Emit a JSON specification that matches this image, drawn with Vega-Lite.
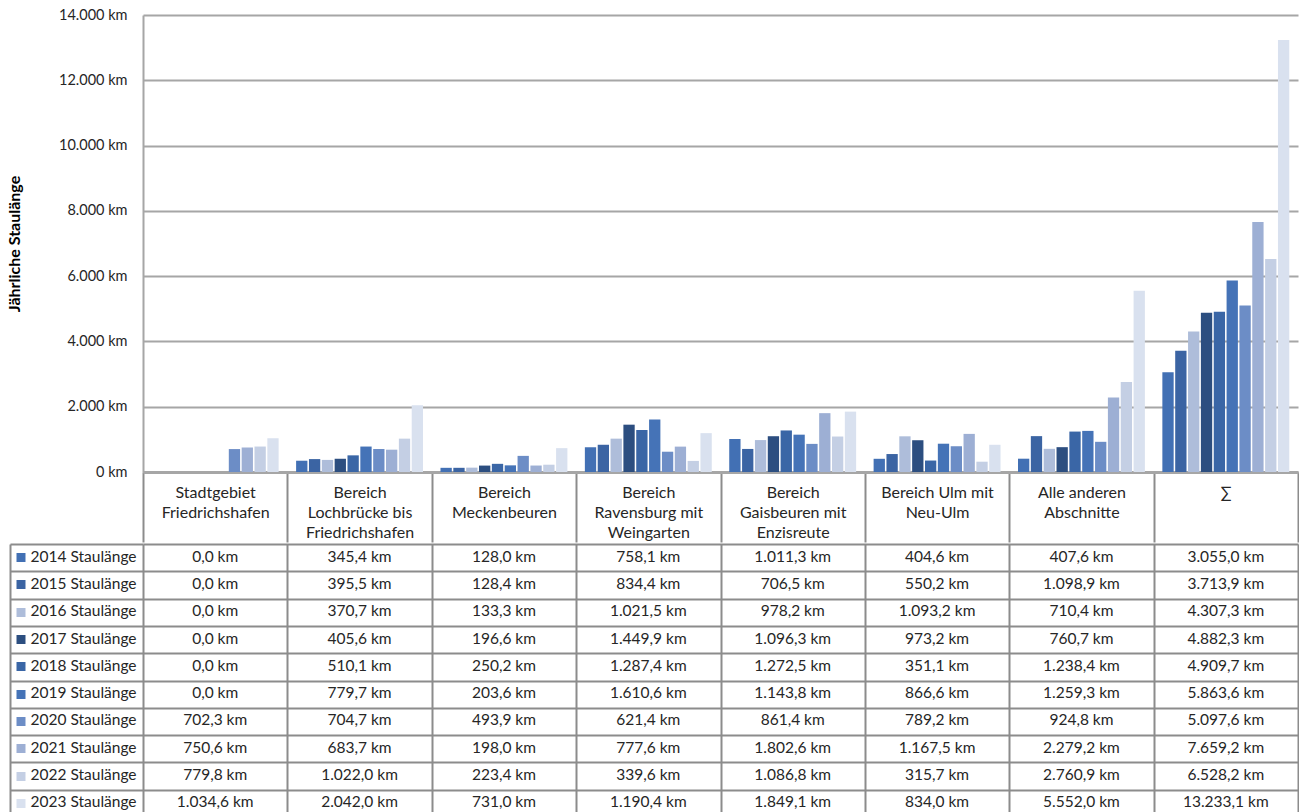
{
  "$schema": "https://vega.github.io/schema/vega-lite/v6.json",
  "padding": {"left": 6, "top": 7, "right": 0, "bottom": 0},
  "background": "white",
  "config": {
    "locale": {"number": {"decimal": ",", "thousands": ".", "grouping": [3], "currency": ["", " km"]}},
    "view": {"stroke": null},
    "font": "Lato"
  },
  "datasets": {
    "stau": [
      {"abschnitt": "Stadtgebiet Friedrichshafen", "jahr": "2014 Staulänge", "km": 0.0},
      {"abschnitt": "Bereich Lochbrücke bis Friedrichshafen", "jahr": "2014 Staulänge", "km": 345.4},
      {"abschnitt": "Bereich Meckenbeuren", "jahr": "2014 Staulänge", "km": 128.0},
      {"abschnitt": "Bereich Ravensburg mit Weingarten", "jahr": "2014 Staulänge", "km": 758.1},
      {"abschnitt": "Bereich Gaisbeuren mit Enzisreute", "jahr": "2014 Staulänge", "km": 1011.3},
      {"abschnitt": "Bereich Ulm mit Neu-Ulm", "jahr": "2014 Staulänge", "km": 404.6},
      {"abschnitt": "Alle anderen Abschnitte", "jahr": "2014 Staulänge", "km": 407.6},
      {"abschnitt": "∑", "jahr": "2014 Staulänge", "km": 3055.0},
      {"abschnitt": "Stadtgebiet Friedrichshafen", "jahr": "2015 Staulänge", "km": 0.0},
      {"abschnitt": "Bereich Lochbrücke bis Friedrichshafen", "jahr": "2015 Staulänge", "km": 395.5},
      {"abschnitt": "Bereich Meckenbeuren", "jahr": "2015 Staulänge", "km": 128.4},
      {"abschnitt": "Bereich Ravensburg mit Weingarten", "jahr": "2015 Staulänge", "km": 834.4},
      {"abschnitt": "Bereich Gaisbeuren mit Enzisreute", "jahr": "2015 Staulänge", "km": 706.5},
      {"abschnitt": "Bereich Ulm mit Neu-Ulm", "jahr": "2015 Staulänge", "km": 550.2},
      {"abschnitt": "Alle anderen Abschnitte", "jahr": "2015 Staulänge", "km": 1098.9},
      {"abschnitt": "∑", "jahr": "2015 Staulänge", "km": 3713.9},
      {"abschnitt": "Stadtgebiet Friedrichshafen", "jahr": "2016 Staulänge", "km": 0.0},
      {"abschnitt": "Bereich Lochbrücke bis Friedrichshafen", "jahr": "2016 Staulänge", "km": 370.7},
      {"abschnitt": "Bereich Meckenbeuren", "jahr": "2016 Staulänge", "km": 133.3},
      {"abschnitt": "Bereich Ravensburg mit Weingarten", "jahr": "2016 Staulänge", "km": 1021.5},
      {"abschnitt": "Bereich Gaisbeuren mit Enzisreute", "jahr": "2016 Staulänge", "km": 978.2},
      {"abschnitt": "Bereich Ulm mit Neu-Ulm", "jahr": "2016 Staulänge", "km": 1093.2},
      {"abschnitt": "Alle anderen Abschnitte", "jahr": "2016 Staulänge", "km": 710.4},
      {"abschnitt": "∑", "jahr": "2016 Staulänge", "km": 4307.3},
      {"abschnitt": "Stadtgebiet Friedrichshafen", "jahr": "2017 Staulänge", "km": 0.0},
      {"abschnitt": "Bereich Lochbrücke bis Friedrichshafen", "jahr": "2017 Staulänge", "km": 405.6},
      {"abschnitt": "Bereich Meckenbeuren", "jahr": "2017 Staulänge", "km": 196.6},
      {"abschnitt": "Bereich Ravensburg mit Weingarten", "jahr": "2017 Staulänge", "km": 1449.9},
      {"abschnitt": "Bereich Gaisbeuren mit Enzisreute", "jahr": "2017 Staulänge", "km": 1096.3},
      {"abschnitt": "Bereich Ulm mit Neu-Ulm", "jahr": "2017 Staulänge", "km": 973.2},
      {"abschnitt": "Alle anderen Abschnitte", "jahr": "2017 Staulänge", "km": 760.7},
      {"abschnitt": "∑", "jahr": "2017 Staulänge", "km": 4882.3},
      {"abschnitt": "Stadtgebiet Friedrichshafen", "jahr": "2018 Staulänge", "km": 0.0},
      {"abschnitt": "Bereich Lochbrücke bis Friedrichshafen", "jahr": "2018 Staulänge", "km": 510.1},
      {"abschnitt": "Bereich Meckenbeuren", "jahr": "2018 Staulänge", "km": 250.2},
      {"abschnitt": "Bereich Ravensburg mit Weingarten", "jahr": "2018 Staulänge", "km": 1287.4},
      {"abschnitt": "Bereich Gaisbeuren mit Enzisreute", "jahr": "2018 Staulänge", "km": 1272.5},
      {"abschnitt": "Bereich Ulm mit Neu-Ulm", "jahr": "2018 Staulänge", "km": 351.1},
      {"abschnitt": "Alle anderen Abschnitte", "jahr": "2018 Staulänge", "km": 1238.4},
      {"abschnitt": "∑", "jahr": "2018 Staulänge", "km": 4909.7},
      {"abschnitt": "Stadtgebiet Friedrichshafen", "jahr": "2019 Staulänge", "km": 0.0},
      {"abschnitt": "Bereich Lochbrücke bis Friedrichshafen", "jahr": "2019 Staulänge", "km": 779.7},
      {"abschnitt": "Bereich Meckenbeuren", "jahr": "2019 Staulänge", "km": 203.6},
      {"abschnitt": "Bereich Ravensburg mit Weingarten", "jahr": "2019 Staulänge", "km": 1610.6},
      {"abschnitt": "Bereich Gaisbeuren mit Enzisreute", "jahr": "2019 Staulänge", "km": 1143.8},
      {"abschnitt": "Bereich Ulm mit Neu-Ulm", "jahr": "2019 Staulänge", "km": 866.6},
      {"abschnitt": "Alle anderen Abschnitte", "jahr": "2019 Staulänge", "km": 1259.3},
      {"abschnitt": "∑", "jahr": "2019 Staulänge", "km": 5863.6},
      {"abschnitt": "Stadtgebiet Friedrichshafen", "jahr": "2020 Staulänge", "km": 702.3},
      {"abschnitt": "Bereich Lochbrücke bis Friedrichshafen", "jahr": "2020 Staulänge", "km": 704.7},
      {"abschnitt": "Bereich Meckenbeuren", "jahr": "2020 Staulänge", "km": 493.9},
      {"abschnitt": "Bereich Ravensburg mit Weingarten", "jahr": "2020 Staulänge", "km": 621.4},
      {"abschnitt": "Bereich Gaisbeuren mit Enzisreute", "jahr": "2020 Staulänge", "km": 861.4},
      {"abschnitt": "Bereich Ulm mit Neu-Ulm", "jahr": "2020 Staulänge", "km": 789.2},
      {"abschnitt": "Alle anderen Abschnitte", "jahr": "2020 Staulänge", "km": 924.8},
      {"abschnitt": "∑", "jahr": "2020 Staulänge", "km": 5097.6},
      {"abschnitt": "Stadtgebiet Friedrichshafen", "jahr": "2021 Staulänge", "km": 750.6},
      {"abschnitt": "Bereich Lochbrücke bis Friedrichshafen", "jahr": "2021 Staulänge", "km": 683.7},
      {"abschnitt": "Bereich Meckenbeuren", "jahr": "2021 Staulänge", "km": 198.0},
      {"abschnitt": "Bereich Ravensburg mit Weingarten", "jahr": "2021 Staulänge", "km": 777.6},
      {"abschnitt": "Bereich Gaisbeuren mit Enzisreute", "jahr": "2021 Staulänge", "km": 1802.6},
      {"abschnitt": "Bereich Ulm mit Neu-Ulm", "jahr": "2021 Staulänge", "km": 1167.5},
      {"abschnitt": "Alle anderen Abschnitte", "jahr": "2021 Staulänge", "km": 2279.2},
      {"abschnitt": "∑", "jahr": "2021 Staulänge", "km": 7659.2},
      {"abschnitt": "Stadtgebiet Friedrichshafen", "jahr": "2022 Staulänge", "km": 779.8},
      {"abschnitt": "Bereich Lochbrücke bis Friedrichshafen", "jahr": "2022 Staulänge", "km": 1022.0},
      {"abschnitt": "Bereich Meckenbeuren", "jahr": "2022 Staulänge", "km": 223.4},
      {"abschnitt": "Bereich Ravensburg mit Weingarten", "jahr": "2022 Staulänge", "km": 339.6},
      {"abschnitt": "Bereich Gaisbeuren mit Enzisreute", "jahr": "2022 Staulänge", "km": 1086.8},
      {"abschnitt": "Bereich Ulm mit Neu-Ulm", "jahr": "2022 Staulänge", "km": 315.7},
      {"abschnitt": "Alle anderen Abschnitte", "jahr": "2022 Staulänge", "km": 2760.9},
      {"abschnitt": "∑", "jahr": "2022 Staulänge", "km": 6528.2},
      {"abschnitt": "Stadtgebiet Friedrichshafen", "jahr": "2023 Staulänge", "km": 1034.6},
      {"abschnitt": "Bereich Lochbrücke bis Friedrichshafen", "jahr": "2023 Staulänge", "km": 2042.0},
      {"abschnitt": "Bereich Meckenbeuren", "jahr": "2023 Staulänge", "km": 731.0},
      {"abschnitt": "Bereich Ravensburg mit Weingarten", "jahr": "2023 Staulänge", "km": 1190.4},
      {"abschnitt": "Bereich Gaisbeuren mit Enzisreute", "jahr": "2023 Staulänge", "km": 1849.1},
      {"abschnitt": "Bereich Ulm mit Neu-Ulm", "jahr": "2023 Staulänge", "km": 834.0},
      {"abschnitt": "Alle anderen Abschnitte", "jahr": "2023 Staulänge", "km": 5552.0},
      {"abschnitt": "∑", "jahr": "2023 Staulänge", "km": 13233.1}
    ]
  },
  "spacing": 0,
  "resolve": {"scale": {"x": "independent", "y": "independent"}},
  "vconcat": [
    {
      "width": 1155,
      "height": 457,
      "data": {"name": "stau"},
      "mark": {"type": "bar"},
      "encoding": {
        "x": {
          "field": "abschnitt", "type": "nominal",
          "sort": ["Stadtgebiet Friedrichshafen", "Bereich Lochbrücke bis Friedrichshafen", "Bereich Meckenbeuren", "Bereich Ravensburg mit Weingarten", "Bereich Gaisbeuren mit Enzisreute", "Bereich Ulm mit Neu-Ulm", "Alle anderen Abschnitte", "∑"],
          "scale": {"paddingInner": 0, "paddingOuter": 0},
          "axis": {
            "orient": "bottom", "title": null, "tickBand": "extent", "tickSize": 70, "tickColor": "#8c8c8c", "tickWidth": 2,
            "domainColor": "#a6a6a6", "domainWidth": 3,
            "labelAngle": 0, "labelPadding": -58, "labelBaseline": "top", "labelFont": "Lato", "labelFontSize": 16,
            "labelColor": "#262626", "labelLineHeight": 20, "labelOverlap": false, "labelLimit": 200,
            "labelExpr": "datum.label == 'Stadtgebiet Friedrichshafen' ? ['Stadtgebiet','Friedrichshafen'] : datum.label == 'Bereich Lochbrücke bis Friedrichshafen' ? ['Bereich','Lochbrücke bis','Friedrichshafen'] : datum.label == 'Bereich Meckenbeuren' ? ['Bereich','Meckenbeuren'] : datum.label == 'Bereich Ravensburg mit Weingarten' ? ['Bereich','Ravensburg mit','Weingarten'] : datum.label == 'Bereich Gaisbeuren mit Enzisreute' ? ['Bereich','Gaisbeuren mit','Enzisreute'] : datum.label == 'Bereich Ulm mit Neu-Ulm' ? ['Bereich Ulm mit','Neu-Ulm'] : datum.label == 'Alle anderen Abschnitte' ? ['Alle anderen','Abschnitte'] : datum.label"
          }
        },
        "xOffset": {"field": "jahr", "type": "nominal", "scale": {"paddingInner": 0.12, "paddingOuter": 0.68}},
        "y": {
          "field": "km", "type": "quantitative",
          "scale": {"domain": [0, 14000], "nice": false},
          "axis": {
            "title": "Jährliche Staulänge", "titleFont": "Lato", "titleFontSize": 16, "titleFontWeight": "bold", "titleColor": "#000000", "titlePadding": 36,
            "values": [0, 2000, 4000, 6000, 8000, 10000, 12000, 14000], "format": "$,.0f",
            "labelFont": "Lato", "labelFontSize": 14.5, "labelColor": "#262626", "labelPadding": 16,
            "ticks": false, "domain": true, "domainColor": "#a6a6a6", "domainWidth": 2,
            "grid": true, "gridColor": "#a6a6a6", "gridWidth": 2
          }
        },
        "color": {
          "field": "jahr", "type": "nominal",
          "scale": {"range": ["#4270B4", "#3B64A3", "#AEBDDA", "#2C4E80", "#3A66A6", "#4573B7", "#6C8DC6", "#9DAFD4", "#C4CFE4", "#D9E1EF"]},
          "legend": null
        }
      }
    },
    {
      "width": 1155,
      "height": 273,
      "data": {"name": "stau"},
      "resolve": {"axis": {"y": "independent"}},
      "layer": [
        {
          "mark": {"type": "rect", "fill": "white"},
          "encoding": {
            "x": {
              "field": "abschnitt", "type": "nominal",
              "sort": ["Stadtgebiet Friedrichshafen", "Bereich Lochbrücke bis Friedrichshafen", "Bereich Meckenbeuren", "Bereich Ravensburg mit Weingarten", "Bereich Gaisbeuren mit Enzisreute", "Bereich Ulm mit Neu-Ulm", "Alle anderen Abschnitte", "∑"],
              "scale": {"paddingInner": 0, "paddingOuter": 0},
              "axis": {"orient": "bottom", "title": null, "labels": false, "ticks": false, "domain": false, "grid": true, "tickBand": "extent", "gridColor": "#8c8c8c", "gridWidth": 2, "zindex": 1}
            },
            "y": {
              "field": "jahr", "type": "nominal",
              "scale": {"paddingInner": 0, "paddingOuter": 0},
              "axis": {"orient": "right", "offset": -1288, "title": null, "labels": false, "tickBand": "extent", "tickSize": 133, "tickColor": "#8c8c8c", "tickWidth": 2, "domain": true, "domainColor": "#8c8c8c", "domainWidth": 2, "grid": true, "gridColor": "#8c8c8c", "gridWidth": 2, "zindex": 1}
            }
          }
        },
        {
          "mark": {"type": "text", "font": "Lato", "fontSize": 15.5, "color": "#262626", "dy": -1},
          "encoding": {
            "x": {
              "field": "abschnitt", "type": "nominal",
              "sort": ["Stadtgebiet Friedrichshafen", "Bereich Lochbrücke bis Friedrichshafen", "Bereich Meckenbeuren", "Bereich Ravensburg mit Weingarten", "Bereich Gaisbeuren mit Enzisreute", "Bereich Ulm mit Neu-Ulm", "Alle anderen Abschnitte", "∑"]
            },
            "y": {
              "field": "jahr", "type": "nominal",
              "axis": {"orient": "left", "offset": 118, "title": null, "domain": false, "grid": false, "ticks": true, "tickSize": 9, "tickWidth": 9, "tickCap": "butt",
                "tickColor": {"expr": "['#4270B4','#3B64A3','#AEBDDA','#2C4E80','#3A66A6','#4573B7','#6C8DC6','#9DAFD4','#C4CFE4','#D9E1EF'][toNumber(substring(datum.value,0,4))-2014]"},
                "labelAlign": "left", "labelPadding": -14, "labelFont": "Lato", "labelFontSize": 15.5, "labelColor": "#262626", "labelOffset": -1, "zindex": 1}
            },
            "text": {"field": "km", "type": "quantitative", "format": "$,.1f"}
          }
        }
      ]
    }
  ]
}
